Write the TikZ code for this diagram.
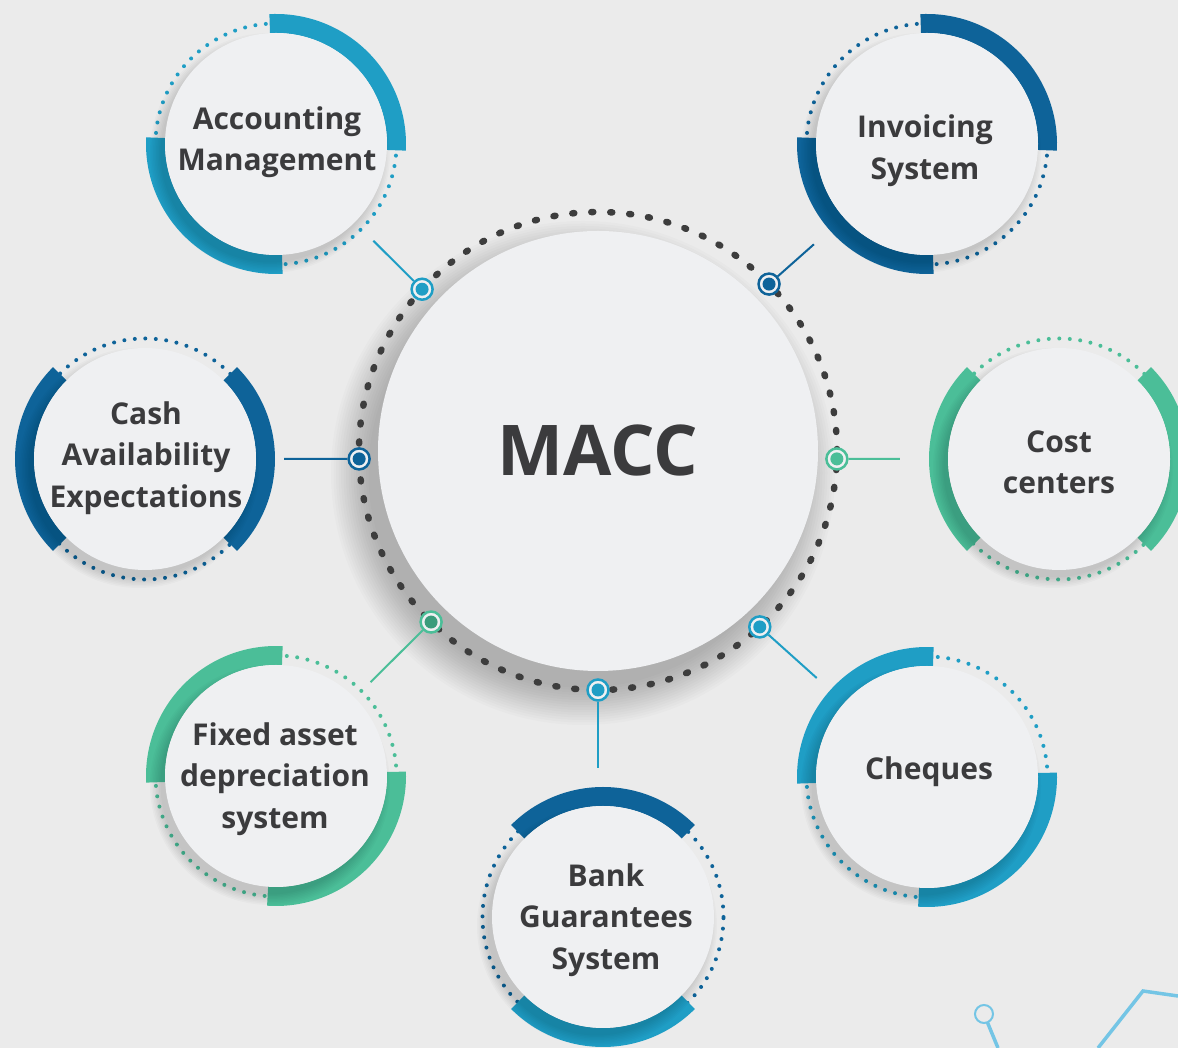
\documentclass[tikz,border=0pt]{standalone}
\usepackage{fontspec}
\setmainfont{Open Sans}
\usetikzlibrary{calc}
\definecolor{bgcol}{HTML}{EBEBEB}
\definecolor{disccol}{HTML}{EFF0F2}
\definecolor{lblue}{HTML}{1F9EC5}
\definecolor{dblue}{HTML}{0E6399}
\definecolor{mint}{HTML}{4BBE98}
\definecolor{dmint}{HTML}{3A9C7B}
\definecolor{ringdot}{HTML}{3D3D3D}
\definecolor{txtcol}{HTML}{3B3B3D}
\definecolor{decocol}{HTML}{74C5E5}
\tikzset{
  maindisc/.style={circle, fill=disccol, minimum size=440pt, inner sep=0pt,
    text=txtcol, font=\bfseries\fontsize{70}{80}\selectfont},
  satdisc/.style={circle, fill=disccol, minimum size=222pt, inner sep=0pt},
  sattext/.style={align=center, text=txtcol, inner sep=0pt,
    font=\bfseries\fontsize{30}{41.5}\selectfont},
  band/.style={draw=#1, line width=19pt},
  satdots/.style={draw=#1, line width=4pt, line cap=round, dash pattern=on 0pt off 10.5pt},
  marker/.style 2 args={circle, draw=#1, line width=2.5pt, fill=disccol,
    minimum size=21pt, inner sep=0pt,
    path picture={\fill[#2] (path picture bounding box.center) circle (6.5pt);}},
  link/.style={draw=#1, line width=2pt},
}
\begin{document}
\begin{tikzpicture}[x=1pt, y=1pt]
  \useasboundingbox (0,0) rectangle (1178,1048);
  \clip (0,0) rectangle (1178,1048);
  \fill[bgcol] (0,0) rectangle (1178,1048);

  % shadow and dotted ring of the hub
  \foreach \k in {1,...,16}
    \fill[black, opacity=0.014] (583,575) circle ({212+2.5*\k});
  \draw[ringdot, line width=6.5pt, line cap=round, dash pattern=on 2pt off 17.01pt]
    (598,597) circle (239);
  \node[maindisc] (c) at (598,597) {MACC};

  % markers on the ring
  \foreach \n/\a/\ca/\cb in {acc/137.4/lblue/lblue, inv/44.3/dblue/dblue,
      cash/181.9/dblue/dblue, cost/-1.9/mint/mint, fix/225.7/mint/dmint,
      bank/270/lblue/lblue, chq/312.6/lblue/lblue}
    \node[marker={\ca}{\cb}] (m-\n) at ($(c)+(\a:239)$) {};

  % satellites
  \foreach \n/\x/\y/\ca/\cb/\sa/\ea/\sb/\eb/\tx/\ty/\txt in {
      acc/276/904/lblue/lblue/-3/93/177/273/1/2/{Accounting\\Management},
      inv/927/904/dblue/dblue/-3/93/177/273/-2/-6.5/{Invoicing\\System},
      cash/145/589/dblue/dblue/-45/45/135/225/1/1/{Cash\\Availability\\Expectations},
      cost/1059/589/mint/mint/-45/45/135/225/0/-3.5/{Cost\\centers},
      fix/276/272/mint/mint/87/183/266/362/-1/-3/{Fixed asset\\depreciation\\system},
      bank/603/131/dblue/lblue/45/135/225/315/3/-3/{Bank\\Guarantees\\System},
      chq/927/271/lblue/lblue/87/183/266/362/2/5/{Cheques}}
  {
    \draw[satdots=\ca] (\x,\y) circle (120.5);
    \draw[band=\ca] ($(\x,\y)+(\sa:120.5)$) arc[start angle=\sa, end angle=\ea, radius=120.5];
    \draw[band=\cb] ($(\x,\y)+(\sb:120.5)$) arc[start angle=\sb, end angle=\eb, radius=120.5];
    \foreach \k in {1,...,8}
      \fill[black, opacity=0.02] ($(\x,\y)+(-6,-9)$) circle ({108+1.5*\k});
    \node[satdisc] (\n) at (\x,\y) {};
    \node[sattext] (\n-t) at ($(\x,\y)+(\tx,\ty)$) {\txt};
  }

  % connectors
  \draw[link=lblue, shorten >=26pt] (m-acc) -- (acc);
  \draw[link=dblue, shorten >=40pt] (m-inv) -- (inv);
  \draw[link=dblue, shorten >=28pt] (m-cash) -- (cash);
  \draw[link=mint, shorten >=48pt] (m-cost) -- (cost);
  \draw[link=mint, shorten >=22pt] (m-fix) -- (fix);
  \draw[link=lblue, shorten >=38pt] (m-bank) -- (m-bank |- bank.north);
  \draw[link=lblue, shorten >=37pt] (m-chq) -- (chq);

  % corner ornament
  \draw[decocol, line width=2pt] (984,34) circle (9);
  \draw[decocol, line width=3.5pt] (987.4,25.7) -- (998,0);
  \draw[decocol, line width=3.5pt] (1098,0) -- (1143,57) -- (1178,52);
\end{tikzpicture}
\end{document}
